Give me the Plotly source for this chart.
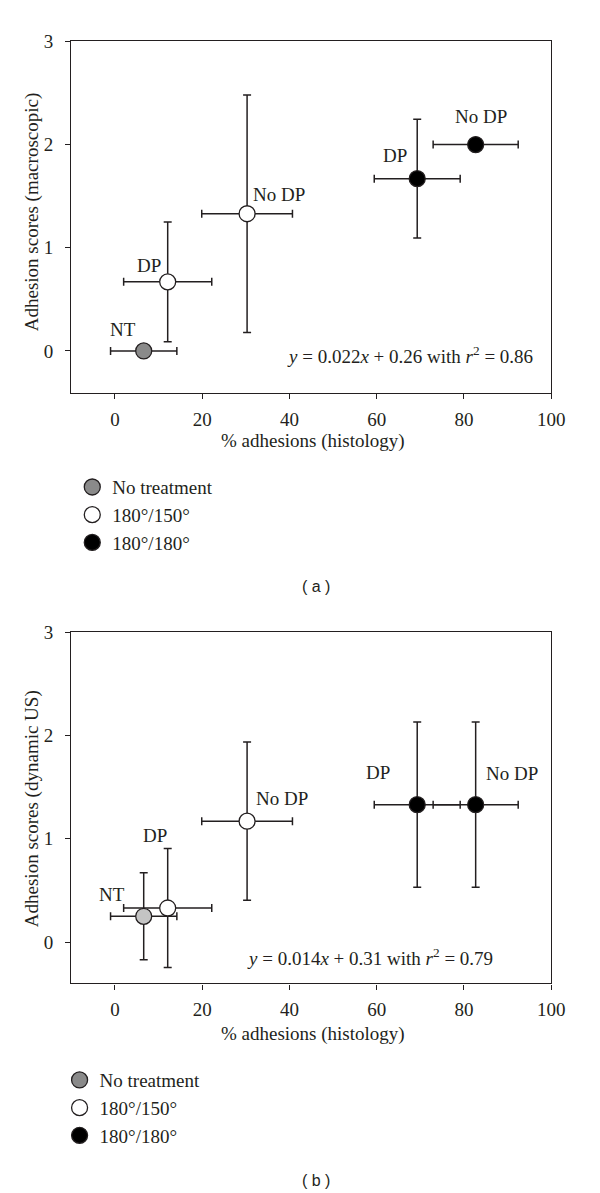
import plotly.graph_objects as go

# ---------------- data ----------------
group_names = ["No treatment", "180°/150°", "180°/180°"]
point_labels = ["NT", "DP", "No DP", "DP", "No DP"]
point_group = [0, 1, 1, 2, 2]

hist_x = [6.6, 12.1, 30.3, 69.3, 82.7]
hist_xerr = [7.6, 10.1, 10.4, 9.85, 9.75]

macro_y = [0.0, 0.67, 1.33, 1.67, 2.0]
macro_yerr = [0.0, 0.58, 1.15, 0.575, 0.0]

us_y = [0.25, 0.33, 1.17, 1.33, 1.33]
us_yerr = [0.42, 0.575, 0.765, 0.8, 0.8]

eq_a = "<i>y</i> = 0.022<i>x</i> + 0.26 with <i>r</i><sup>2</sup> = 0.86"
eq_b = "<i>y</i> = 0.014<i>x</i> + 0.31 with <i>r</i><sup>2</sup> = 0.79"

x_ticks = [0, 20, 40, 60, 80, 100]
y_ticks = [0, 1, 2, 3]

# label positions (data coords)
lab_a_x = [1.9, 7.9, 37.6, 64.2, 84.0]
lab_a_y = [0.21, 0.83, 1.52, 1.89, 2.27]
lab_b_x = [-0.7, 9.1, 38.3, 60.3, 91.0]
lab_b_y = [0.46, 1.03, 1.39, 1.64, 1.63]

# ---------------- style ----------------
SERIF = "Liberation Serif"
SANS = "Liberation Sans"
INK = "#231f20"
FS = 19
colors_a = ["#8a8a8a", "#ffffff", "#000000"]
colors_b = ["#c4c4c4", "#ffffff", "#000000"]
legend_colors = ["#8a8a8a", "#ffffff", "#000000"]

fig = go.Figure()

def add_panel(ys, yerr, cols, xa, ya):
    fig.add_trace(go.Scatter(
        x=hist_x, y=ys, mode="markers", xaxis=xa, yaxis=ya, showlegend=False,
        marker=dict(size=16, color=[cols[g] for g in point_group],
                    line=dict(color=INK, width=1.3)),
        error_x=dict(type="data", array=hist_xerr, color=INK, thickness=1.5, width=4),
        error_y=dict(type="data", array=yerr, color=INK, thickness=1.5, width=4),
        hoverinfo="skip"))

add_panel(macro_y, macro_yerr, colors_a, "x", "y")
add_panel(us_y, us_yerr, colors_b, "x2", "y2")

# legend-only traces
for leg, xa, ya in [("legend", "x", "y"), ("legend2", "x2", "y2")]:
    for i, name in enumerate(group_names):
        fig.add_trace(go.Scatter(
            x=[None], y=[None], mode="markers", name=name, legend=leg,
            xaxis=xa, yaxis=ya,
            marker=dict(size=16, color=legend_colors[i], line=dict(color=INK, width=1.3))))

axis_common = dict(showline=True, mirror=True, linecolor=INK, linewidth=1.3,
                   ticks="outside", ticklen=5, tickcolor=INK, tickwidth=1.3,
                   showgrid=False, zeroline=False,
                   tickfont=dict(family=SERIF, size=FS, color=INK))

xd = [73.0 / 600, 564.3 / 600]
H = 1193.0
fig.update_layout(
    width=600, height=1193, margin=dict(l=0, r=0, t=0, b=0),
    paper_bgcolor="white", plot_bgcolor="white",
    xaxis=dict(domain=xd, range=[-10, 100], tickvals=x_ticks, anchor="y",
               ticklabelstandoff=4, **axis_common),
    yaxis=dict(domain=[1 - 386.5 / H, 1 - 31.7 / H], range=[-0.41, 3], tickvals=y_ticks,
               anchor="x", ticklabelstandoff=8, **axis_common),
    xaxis2=dict(domain=xd, range=[-10, 100], tickvals=x_ticks, anchor="y2",
                ticklabelstandoff=4, **axis_common),
    yaxis2=dict(domain=[1 - 981.7 / H, 1 - 627.3 / H], range=[-0.40, 3], tickvals=y_ticks,
                anchor="x2", ticklabelstandoff=8, **axis_common),
    legend=dict(x=74 / 600, y=1 - 462 / H, xanchor="left", yanchor="top",
                font=dict(family=SERIF, size=FS, color=INK), tracegroupgap=0,
                bgcolor="rgba(0,0,0,0)"),
    legend2=dict(x=61 / 600, y=1 - 1060 / H, xanchor="left", yanchor="top",
                 font=dict(family=SERIF, size=FS, color=INK), tracegroupgap=0,
                 bgcolor="rgba(0,0,0,0)"),
)

def A(**kw):
    d = dict(showarrow=False, xanchor="center", yanchor="middle",
             font=dict(family=SERIF, size=FS, color=INK))
    d.update(kw)
    return d

ann = []
for i, t in enumerate(point_labels):
    ann.append(A(x=lab_a_x[i], y=lab_a_y[i], xref="x", yref="y", text=t))
    ann.append(A(x=lab_b_x[i], y=lab_b_y[i], xref="x2", yref="y2", text=t))
ann.append(A(x=96.2, y=-0.04, xref="x", yref="y", text=eq_a, xanchor="right"))
ann.append(A(x=58.4, y=-0.144, xref="x2", yref="y2", text=eq_b))
# axis titles
ann.append(A(x=32.7 / 600, y=1 - 204 / H, xref="paper", yref="paper",
             text="Adhesion scores (macroscopic)", textangle=-90))
ann.append(A(x=32.7 / 600, y=1 - 805 / H, xref="paper", yref="paper",
             text="Adhesion scores (dynamic US)", textangle=-90))
ann.append(A(x=320 / 600, y=1 - 435 / H, xref="paper", yref="paper",
             text="% adhesions (histology)"))
ann.append(A(x=320 / 600, y=1 - 1033 / H, xref="paper", yref="paper",
             text="% adhesions (histology)"))
ann.append(A(x=324 / 600, y=1 - 581.7 / H, xref="paper", yref="paper",
             text="( a )", font=dict(family=SANS, size=16, color=INK)))
ann.append(A(x=324 / 600, y=1 - 1180 / H, xref="paper", yref="paper",
             text="( b )", font=dict(family=SANS, size=16, color=INK)))
fig.update_layout(annotations=ann)

fig.write_html("out.html", config={"displayModeBar": False},
               post_script="document.body.style.margin='0';document.body.style.overflow='hidden';")
